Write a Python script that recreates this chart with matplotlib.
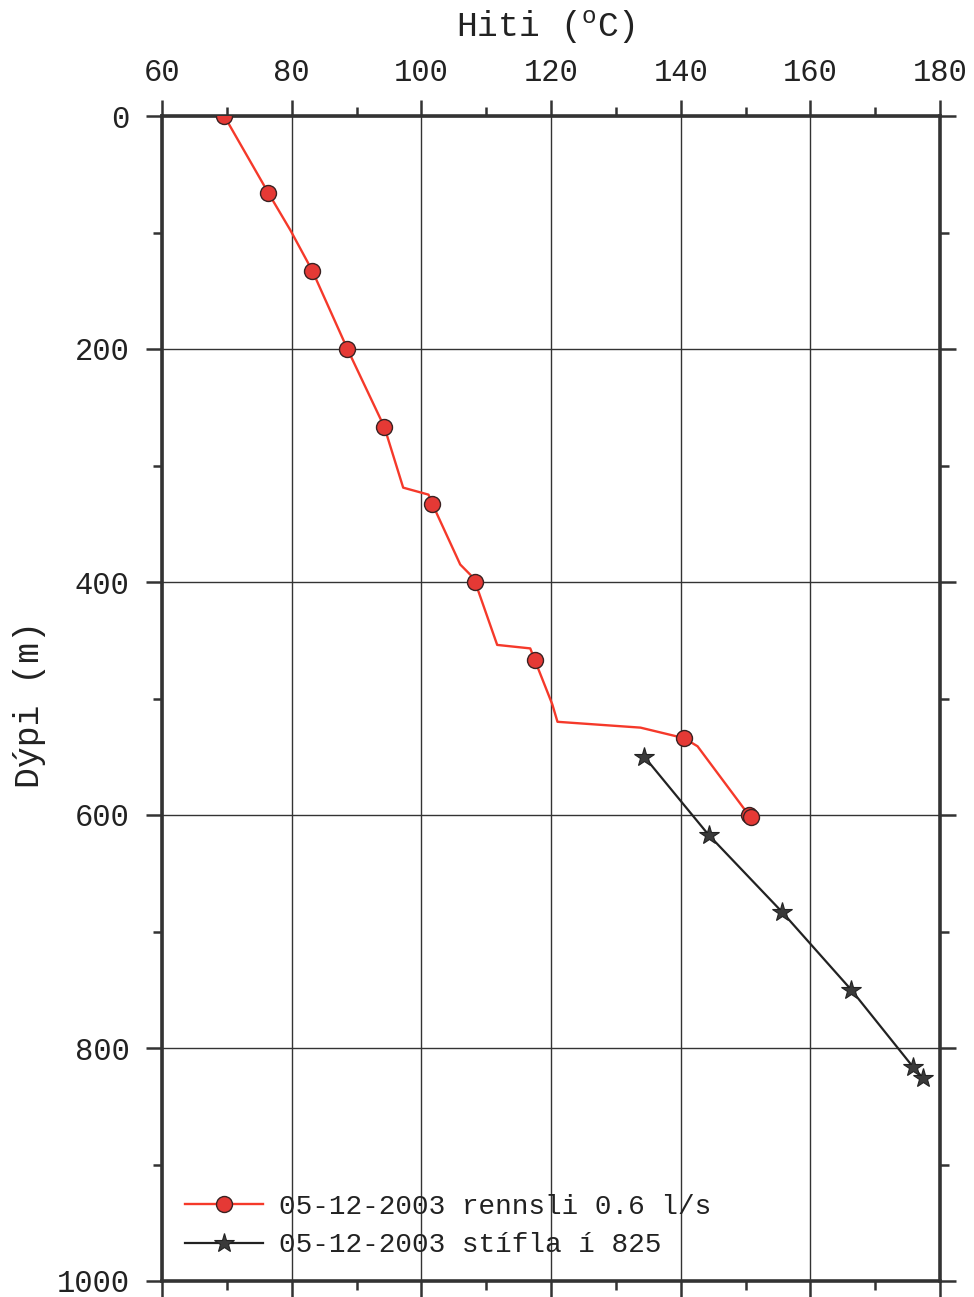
import matplotlib
matplotlib.use("Agg")
import matplotlib.pyplot as plt
from matplotlib.ticker import MultipleLocator

# ---- data ----
# full logged profile, 05-12-2003, flow 0.6 l/s (temperature degC, depth m)
rennsli_profile_T = [69.6, 76.4, 79.8, 83.2, 88.6, 94.3, 97.2, 101.1, 101.7, 106.0,
                     107.6, 108.3, 111.7, 116.8, 117.5, 120.2, 121.0, 133.8, 140.5,
                     142.6, 150.5, 150.9]
rennsli_profile_D = [0, 66, 98, 133, 200, 267, 319, 325, 333, 385,
                     394, 400, 454, 457, 467, 505, 520, 525, 534,
                     541, 600, 602]
# marked points on that profile
rennsli_mark_T = [69.6, 76.4, 83.2, 88.6, 94.3, 101.7, 108.3, 117.5, 140.5, 150.5, 150.9]
rennsli_mark_D = [0, 66, 133, 200, 267, 333, 400, 467, 534, 600, 602]

# 05-12-2003, packer at 825 m
stifla_T = [134.4, 144.3, 155.6, 166.3, 175.8, 177.4]
stifla_D = [550, 617, 683, 750, 816, 826]

labels = ["05-12-2003 rennsli 0.6 l/s", "05-12-2003 stífla í 825"]
xlabel = "Hiti ($\\mathrm{^o}$C)"
ylabel = "Dýpi (m)"

# ---- style ----
plt.rcParams['font.family'] = ['Liberation Mono', 'DejaVu Sans Mono']
plt.rcParams['mathtext.fontset'] = 'custom'
plt.rcParams['mathtext.rm'] = 'Liberation Mono'
plt.rcParams['mathtext.it'] = 'Liberation Mono'

W, H = 974, 1297
fig = plt.figure(figsize=(W / 100, H / 100), dpi=100)
ax = fig.add_axes([162 / W, 1 - 1281 / H, (940 - 162) / W, (1281 - 116) / H])

fc = '#333333'
red = '#f5392a'
ax.plot(rennsli_profile_T, rennsli_profile_D, color=red, lw=1.7, zorder=3)
ax.plot(rennsli_mark_T, rennsli_mark_D, ls='none', marker='o', ms=11.5,
        mfc='#e53935', mec='#3a2222', mew=1.0, zorder=4)
ax.plot([], [], color=red, lw=1.7, marker='o', ms=11.5,
        mfc='#e53935', mec='#3a2222', mew=1.0, label=labels[0])
ax.plot(stifla_T, stifla_D, color='#222222', lw=1.6, marker='*', ms=15,
        mfc='#3a3a3a', mec='#222222', mew=0.8, zorder=4, label=labels[1])

ax.set_xlim(60, 180)
ax.set_ylim(1000, 0)
ax.xaxis.set_major_locator(MultipleLocator(20))
ax.xaxis.set_minor_locator(MultipleLocator(10))
ax.yaxis.set_major_locator(MultipleLocator(200))
ax.yaxis.set_minor_locator(MultipleLocator(100))

ax.tick_params(axis='both', which='both', direction='out', colors=fc,
               top=True, bottom=True, left=True, right=True,
               labeltop=True, labelbottom=False, labelleft=True, labelright=False)
ax.tick_params(which='major', length=11.5, width=1.8, labelsize=22, pad=9,
               labelcolor='#222222')
ax.tick_params(which='minor', length=6.5, width=1.8)
ax.tick_params(axis='y', which='major', pad=12)

ax.grid(True, which='major', color='#333333', lw=1.0, zorder=1)
for s in ax.spines.values():
    s.set_color(fc)
    s.set_linewidth(2.6)

ax.set_xlabel(xlabel, fontsize=25, color='#222222')
ax.xaxis.set_label_position('top')
ax.xaxis.set_label_coords((545 - 162) / 778, (1281 - 27) / 1165)
ax.xaxis.label.set_va('center')
ax.set_ylabel(ylabel, fontsize=25, color='#222222')
ax.yaxis.set_label_coords((30 - 162) / 778, (1281 - 704) / 1165)
ax.yaxis.label.set_va('center')

leg = ax.legend(loc='upper left', bbox_to_anchor=((185 - 162) / 778, (1281 - 1194) / 1165),
                frameon=False, fontsize=20, handlelength=2.8, handletextpad=0.6,
                labelspacing=0.45, borderpad=0, borderaxespad=0)
for t in leg.get_texts():
    t.set_color('#222222')

fig.savefig('out.png', dpi=100)
